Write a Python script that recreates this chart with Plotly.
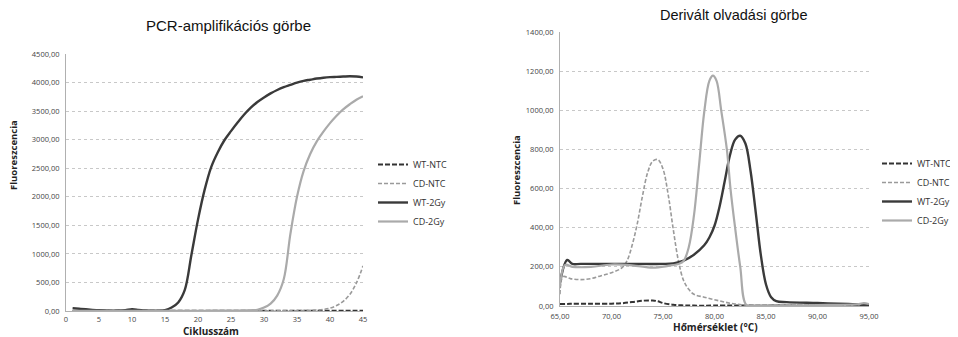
import plotly.graph_objects as go

# ---- PCR amplification curve data ----
cycles = list(range(1, 46))
wt_ntc_amp = [5, 5, 4, 4, 3, 3, 3, 3, 3, 4, 4, 3, 3, 3, 3, 3, 3, 3, 3, 3,
              3, 3, 3, 3, 3, 3, 3, 3, 3, 3, 3, 3, 3, 3, 3, 4, 4, 5, 5, 5,
              5, 5, 5, 5, 5]
cd_ntc_amp = [2, 2, 2, 2, 2, 2, 2, 2, 2, 2, 2, 2, 2, 2, 2, 2, 2, 2, 2, 2,
              2, 2, 2, 2, 2, 2, 2, 2, 2, 3, 3, 3, 4, 5, 6, 8, 12, 18, 28, 50,
              95, 170, 290, 490, 790]
wt_2gy_amp = [50, 40, 30, 20, 12, 8, 6, 8, 15, 30, 20, 8, 5, 5, 15, 60, 150, 370, 980, 1600,
              2120, 2520, 2780, 2990, 3150, 3300, 3440, 3560, 3660, 3740, 3810, 3870, 3920, 3960, 4000, 4030, 4050, 4070, 4085, 4095,
              4100, 4105, 4110, 4105, 4090]
cd_2gy_amp = [3, 3, 3, 3, 3, 3, 3, 3, 3, 3, 3, 3, 3, 3, 3, 3, 3, 3, 4, 4,
              4, 5, 5, 6, 7, 8, 10, 13, 20, 60, 130, 270, 560, 1350, 2000, 2450, 2750, 2970, 3140, 3290,
              3420, 3530, 3620, 3700, 3760]

# ---- Derivative melting curve data ----
temp_wt_ntc = [65, 66, 68, 70, 71, 72, 73, 74, 74.5, 75, 76, 77, 78, 80, 85, 90, 95]
wt_ntc_melt = [10, 11, 11, 12, 14, 20, 27, 28, 24, 15, 6, 3, 2, 2, 3, 5, 5]

temp_cd_ntc = [65, 65.3, 66, 67, 68, 69, 70, 71, 71.5, 72, 72.5, 73, 73.5, 74, 74.5, 75, 75.5, 76, 76.5, 77,
               77.5, 78, 79, 80, 81, 82, 83, 85, 90, 95]
cd_ntc_melt = [60, 150, 140, 135, 140, 155, 170, 195, 230, 310, 420, 560, 680, 740, 748, 700, 570, 390, 230, 130,
               85, 60, 45, 32, 20, 10, 5, 5, 8, 8]

temp_wt_2gy = [65, 65.7, 66.2, 67, 70, 73, 75, 76, 77, 78, 79, 79.5, 80, 80.5, 81, 81.5, 82, 82.5, 83, 83.5,
               84, 84.5, 85, 85.5, 86, 87, 90, 93, 95]
wt_2gy_melt = [120, 235, 215, 215, 215, 215, 215, 218, 232, 262, 310, 350, 410, 510, 640, 770, 850, 870, 830, 690,
               480, 260, 110, 45, 25, 20, 15, 10, 5]

temp_cd_2gy = [65, 65.5, 66.2, 68, 70, 72, 74, 75.5, 76.5, 77, 77.5, 78, 78.5, 79, 79.5, 79.85, 80.2, 80.65, 81.2, 81.55,
               82, 82.5, 83.1, 84, 90, 94, 94.5, 95]
cd_2gy_melt = [100, 210, 200, 200, 212, 208, 196, 205, 215, 230, 300, 460, 720, 990, 1150, 1177, 1150, 1000, 800, 600,
               400, 200, 5, 3, 5, 10, 15, 10]

series_names = ["WT-NTC", "CD-NTC", "WT-2Gy", "CD-2Gy"]

styles = {
    "WT-NTC": dict(color="#333333", width=2, dash="5px,2px"),
    "CD-NTC": dict(color="#9a9a9a", width=1.6, dash="4px,2px"),
    "WT-2Gy": dict(color="#3a3a3a", width=2.4),
    "CD-2Gy": dict(color="#aaaaaa", width=2.2),
}

fig = go.Figure()

amp = {"WT-NTC": wt_ntc_amp, "CD-NTC": cd_ntc_amp, "WT-2Gy": wt_2gy_amp, "CD-2Gy": cd_2gy_amp}
for n in series_names:
    fig.add_trace(go.Scatter(x=cycles, y=amp[n], name=n, mode="lines",
                             line=dict(shape="spline", **styles[n]),
                             xaxis="x", yaxis="y", legend="legend"))

melt = {"WT-NTC": (temp_wt_ntc, wt_ntc_melt), "CD-NTC": (temp_cd_ntc, cd_ntc_melt),
        "WT-2Gy": (temp_wt_2gy, wt_2gy_melt), "CD-2Gy": (temp_cd_2gy, cd_2gy_melt)}
for n in series_names:
    xs, ys = melt[n]
    fig.add_trace(go.Scatter(x=xs, y=ys, name=n, mode="lines",
                             line=dict(shape="spline", **styles[n]),
                             xaxis="x2", yaxis="y2", legend="legend2"))

# The page body has an 8px default margin; place everything in window pixels.
OFF = 8
W, H = 958 - OFF, 337 - OFF


def px(x):
    return (x - OFF) / W


def py(y):
    return (H - (y - OFF)) / H


tickfont = dict(family="Open Sans", size=7.5, color="#444444")
grid = dict(showgrid=True, gridcolor="#c8c8c8", griddash="dot", gridwidth=1)
axcommon = dict(automargin=False, ticks="", zeroline=False, showline=True,
                linecolor="#b0b0b0", linewidth=1, tickfont=tickfont)
legfont = dict(family="Open Sans", size=9, color="#333333")

fig.update_layout(
    template="none",
    width=W, height=H,
    margin=dict(l=0, r=0, t=0, b=0, autoexpand=False),
    paper_bgcolor="white", plot_bgcolor="white",
    separators=",.",
    font=dict(family="Open Sans", color="#333333"),
    xaxis=dict(domain=[px(66), px(363)], range=[0, 45], tickmode="array",
               tickvals=list(range(0, 46, 5)), showgrid=False, anchor="y",
               ticklabelstandoff=1, **axcommon),
    yaxis=dict(domain=[py(311), py(54)], range=[0, 4500], dtick=500,
               tickformat=".2f", anchor="x", ticklabelstandoff=4, **axcommon, **grid),
    xaxis2=dict(domain=[px(560), px(869)], range=[65, 95], dtick=5, tickformat=".2f",
                showgrid=False, anchor="y2", ticklabelstandoff=3, **axcommon),
    yaxis2=dict(domain=[py(306), py(32)], range=[0, 1400], dtick=200,
                tickformat=".2f", anchor="x2", ticklabelstandoff=4, **axcommon, **grid),
    legend=dict(x=px(373), y=py(150), xanchor="left", yanchor="top", font=legfont,
                bgcolor="rgba(0,0,0,0)", itemwidth=30, tracegroupgap=0),
    legend2=dict(x=px(877), y=py(149), xanchor="left", yanchor="top", font=legfont,
                 bgcolor="rgba(0,0,0,0)", itemwidth=30, tracegroupgap=0),
    showlegend=True,
)

ann = [
    dict(text="PCR-amplifikációs görbe", x=px(228), y=py(26),
         font=dict(family="Liberation Sans", size=15, color="#111111")),
    dict(text="Derivált olvadási görbe", x=px(734), y=py(15),
         font=dict(family="Liberation Sans", size=14.5, color="#111111")),
    dict(text="<b>Fluoreszcencia</b>", x=px(13), y=py(155), textangle=-90,
         font=dict(family="Open Sans", size=9.5, color="#222222")),
    dict(text="<b>Fluoreszcencia</b>", x=px(516), y=py(170), textangle=-90,
         font=dict(family="Open Sans", size=9.5, color="#222222")),
    dict(text="<b>Ciklusszám</b>", x=px(211), y=py(331),
         font=dict(family="Open Sans", size=10, color="#222222")),
    dict(text="<b>Hőmérséklet (°C)</b>", x=px(715), y=py(327),
         font=dict(family="Open Sans", size=10, color="#222222")),
]
for a in ann:
    fig.add_annotation(xref="paper", yref="paper", showarrow=False,
                       xanchor="center", yanchor="middle", **a)

fig.write_html("out.html")
